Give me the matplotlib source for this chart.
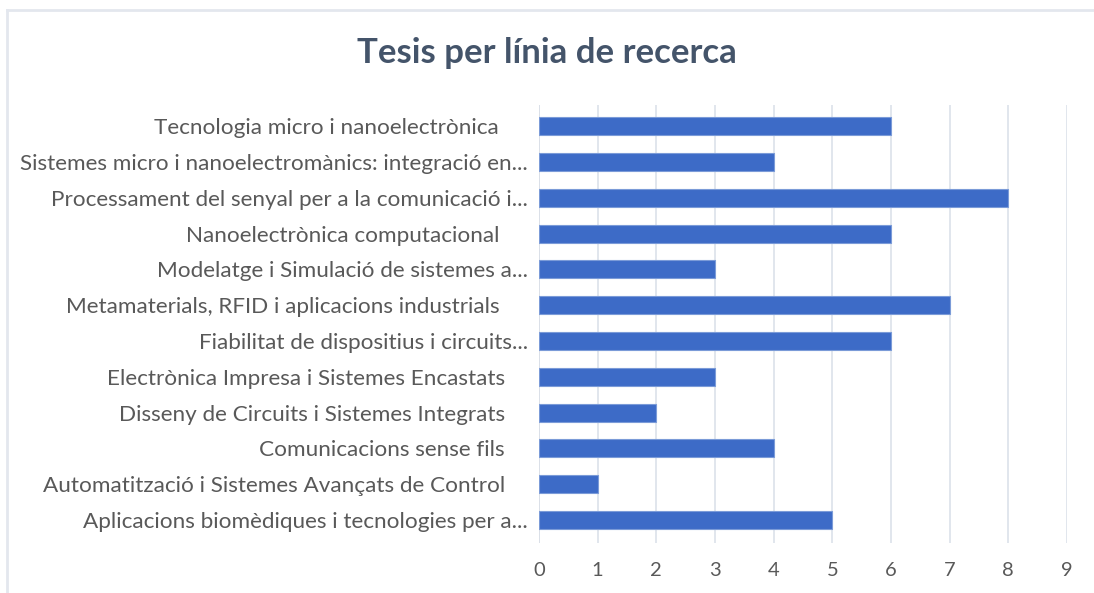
import matplotlib
matplotlib.use("Agg")
import matplotlib.pyplot as plt
from matplotlib.lines import Line2D

categories = [
    "Aplicacions biomèdiques i tecnologies per a...",
    "Automatització i Sistemes Avançats de Control    ",
    "Comunicacions sense fils    ",
    "Disseny de Circuits i Sistemes Integrats    ",
    "Electrònica Impresa i Sistemes Encastats    ",
    "Fiabilitat de dispositius i circuits...",
    "Metamaterials, RFID i aplicacions industrials     ",
    "Modelatge i Simulació de sistemes a...",
    "Nanoelectrònica computacional     ",
    "Processament del senyal per a la comunicació i...",
    "Sistemes micro i nanoelectromànics: integració en...",
    "Tecnologia micro i nanoelectrònica     ",
]
values = [5, 1, 4, 2, 3, 6, 7, 3, 6, 8, 4, 6]
xticks = [0, 1, 2, 3, 4, 5, 6, 7, 8, 9]
title = "Tesis per línia de recerca"

plt.rcParams['font.family'] = ['Lato', 'DejaVu Sans']

fig = plt.figure(figsize=(10.94, 5.93), dpi=100)
ax = fig.add_axes([539/1094, 1-543/593, (1067-539)/1094, (543-105)/593])

ypos = list(range(len(categories)))
ax.barh(ypos, values, height=0.5, color="#3D6BC7", edgecolor="#7B9BD8",
        linewidth=0.8, zorder=3)

ax.set_xlim(0, 9)
ax.set_ylim(-0.64, 11.59)
ax.set_xticks(xticks)
ax.set_xticklabels([str(t) for t in xticks])
ax.set_yticks(ypos)
ax.set_yticklabels(categories)

ax.grid(axis='x', color="#DCE1EA", linewidth=1.2, zorder=0)
ax.grid(axis='y', visible=False)
for s in ax.spines.values():
    s.set_visible(False)
ax.axvline(0, color="#D0D5DD", linewidth=1.2, zorder=1)

ax.tick_params(axis='both', length=0, colors="#595959")
ax.tick_params(axis='x', pad=14, labelsize=14.5)
ax.tick_params(axis='y', pad=8, labelsize=16.2)
for lab in ax.get_xticklabels() + ax.get_yticklabels():
    lab.set_color("#595959")

fig.text(0.5, 1-53/593, title, ha='center', va='center', fontsize=25,
         fontweight='bold', color="#44546A")

# outer frame of the chart area
fig.add_artist(Line2D([7/1094, 1.0], [1-10/593, 1-10/593], transform=fig.transFigure,
                      color="#E3E7EE", linewidth=2))
fig.add_artist(Line2D([7/1094, 7/1094], [0, 1-10/593], transform=fig.transFigure,
                      color="#E3E7EE", linewidth=2))

fig.savefig("out.png", dpi=100, facecolor="white")
